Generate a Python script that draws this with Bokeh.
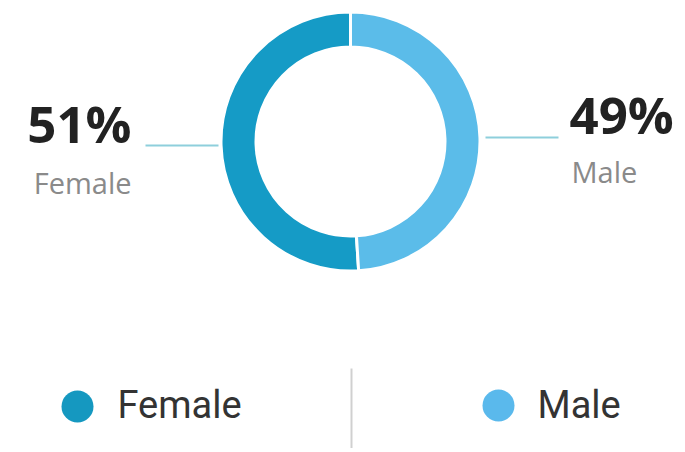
import math
from bokeh.plotting import figure
from bokeh.models import Range1d
from bokeh.core.properties import value
from bokeh.embed import file_html
from bokeh.resources import INLINE

# ---- data ----
genders = ["Female", "Male"]
shares = [51, 49]
colors = ["#159bc6", "#5bbce9"]
pct_labels = ["51%", "49%"]

W, H = 680, 448
p = figure(width=W, height=H, output_backend="svg", toolbar_location=None,
           x_range=Range1d(0, W), y_range=Range1d(0, H), min_border=0,
           tools="")
p.axis.visible = False
p.grid.visible = False
p.outline_line_color = None
p.background_fill_color = "white"
p.border_fill_color = "white"

def X(ix):
    return ix

def Y(iy):
    return H - iy

cx, cy = X(350), Y(141)
r_out, r_in = 128, 96

total = sum(shares)
starts, ends = [], []
a = math.pi / 2
for s in shares:
    starts.append(a)
    a += 2 * math.pi * s / total
    ends.append(a)

p.annular_wedge(x=[cx] * 2, y=[cy] * 2, inner_radius=r_in - 1.5, outer_radius=r_out + 1.5,
                start_angle=starts, end_angle=ends, direction="anticlock",
                fill_color=colors, line_color="white", line_width=3)

# leader lines at slice mid angles
mids = [(s + e) / 2 for s, e in zip(starts, ends)]
yl = cy + r_out * math.sin(mids[0])
yr = cy + r_out * math.sin(mids[1])
p.segment(x0=[cx - 205, cx + 135], y0=[yl, yr], x1=[cx - 132, cx + 208], y1=[yl, yr],
          line_color="#8ecfdc", line_width=2)

# percentage labels
p.text(x=[X(131)], y=[Y(122)], text=[pct_labels[0]], text_font=value("Open Sans"),
       text_font_size="51px", text_font_style="bold", text_color="#222222",
       text_align="right", text_baseline="alphabetic")
p.text(x=[X(131)], y=[Y(182)], text=[genders[0]], text_font=value("Open Sans"),
       text_font_size="29px", text_color="#8a8a8a",
       text_align="right", text_baseline="alphabetic")
p.text(x=[X(569)], y=[Y(113)], text=[pct_labels[1]], text_font=value("Open Sans"),
       text_font_size="51px", text_font_style="bold", text_color="#222222",
       text_align="left", text_baseline="alphabetic")
p.text(x=[X(571)], y=[Y(171)], text=[genders[1]], text_font=value("Open Sans"),
       text_font_size="29px", text_color="#8a8a8a",
       text_align="left", text_baseline="alphabetic")

# legend
p.scatter(x=[X(77), X(498)], y=[Y(406), Y(405)], size=32, marker="circle",
          fill_color=["#1598c0", "#5ab9ec"], line_color=None)
p.text(x=[X(117), X(537)], y=[Y(404), Y(404)], text=genders, text_font=value("Roboto"),
       text_font_size="38px", text_color="#333333",
       text_align="left", text_baseline="alphabetic")
p.segment(x0=[X(351)], y0=[Y(368)], x1=[X(351)], y1=[0], line_color="#d0d0d0", line_width=2)

open("out.html", "w").write(file_html(p, INLINE))
